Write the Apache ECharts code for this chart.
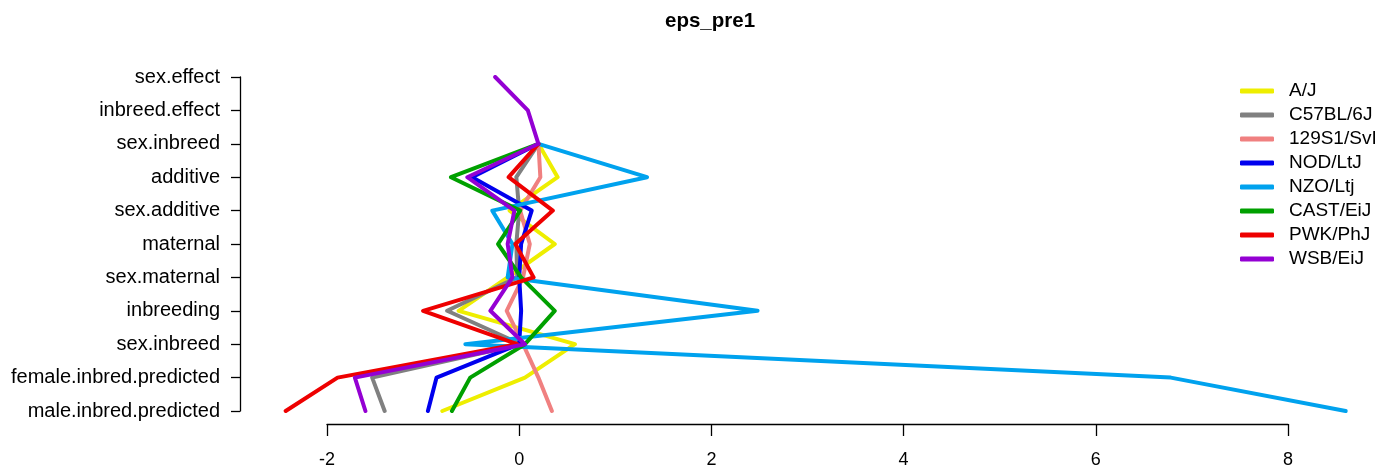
<!DOCTYPE html>
<html>
<head>
<meta charset="utf-8">
<title>eps_pre1</title>
<script src="https://cdn.jsdelivr.net/npm/echarts@6/dist/echarts.min.js"></script>
<style>
  html, body { margin: 0; padding: 0; background: #ffffff; }
  #chart { width: 1393px; height: 474px; }
</style>
</head>
<body>
<div id="chart"></div>
<script>
// Effect rows, listed top to bottom
const rowLabels = [
  'sex.effect', 'inbreed.effect', 'sex.inbreed', 'additive', 'sex.additive',
  'maternal', 'sex.maternal', 'inbreeding', 'sex.inbreed',
  'female.inbred.predicted', 'male.inbred.predicted'
];

// Tick values on the x axis
const xTicks = [-2, 0, 2, 4, 6, 8];

// Strain names (legend order)
const strains = ['A/J', 'C57BL/6J', '129S1/SvI', 'NOD/LtJ', 'NZO/Ltj', 'CAST/EiJ', 'PWK/PhJ', 'WSB/EiJ'];

// Per-strain estimates for each row (null = not estimated)
const ajValues    = [null, null, 0.20,  0.40, -0.10,  0.37, -0.12, -0.63,  0.58,  0.06, -0.80];
const b6Values    = [null, null, 0.20, -0.03,  0.00, -0.03, -0.02, -0.75,  0.02, -1.53, -1.40];
const s129Values  = [null, null, 0.20,  0.22,  0.01,  0.11,  0.04, -0.13,  0.04,  0.20,  0.34];
const nodValues   = [null, null, 0.20, -0.49,  0.13,  0.02,  0.00,  0.02,  0.00, -0.86, -0.95];
const nzoValues   = [null, null, 0.20,  1.33, -0.28, -0.07, -0.12,  2.48, -0.56,  6.78,  8.60];
const castValues  = [null, null, 0.20, -0.71,  0.01, -0.22,  0.02,  0.37,  0.06, -0.51, -0.70];
const pwkValues   = [null, null, 0.20, -0.11,  0.35, -0.04,  0.15, -1.00, -0.02, -1.89, -2.43];
const wsbValues   = [-0.25, 0.09, 0.20, -0.54, -0.05, -0.12, -0.07, -0.30,  0.06, -1.71, -1.60];

const strainValues = [ajValues, b6Values, s129Values, nodValues, nzoValues, castValues, pwkValues, wsbValues];
const strainColors = ['#eeee00', '#808080', '#f08080', '#0000ee', '#00a2ee', '#00a000', '#ee0000', '#9400d3'];

const FONT = 'Liberation Sans, Arial, Helvetica, sans-serif';

// Axis frame: ticks at -2..8 on a grid sized so one unit = (1288-327)/10 px.
// The data grid shares that scale but spans one extra unit on each side,
// so lines that run past -2 or 8 are drawn in full.
const unitPx = (1288 - 327) / 10;
const gridTop = 77, gridBottom = 63;

const series = strains.map((name, s) => {
  const pts = [];
  strainValues[s].forEach((v, i) => { if (v !== null) pts.push([v, i]); });
  return {
    name: name,
    type: 'line',
    xAxisIndex: 1,
    yAxisIndex: 1,
    data: pts,
    symbol: 'none',
    silent: true,
    lineStyle: { color: strainColors[s], width: 4, cap: 'round', join: 'round' },
    itemStyle: { color: strainColors[s] }
  };
});

const chart = echarts.init(document.getElementById('chart'), null, { renderer: 'canvas' });
chart.setOption({
  animation: false,
  backgroundColor: '#ffffff',
  textStyle: { fontFamily: FONT },
  title: {
    text: 'eps_pre1',
    left: 660,
    top: 6,
    textStyle: { fontSize: 20.5, fontWeight: 'bold', color: '#000', fontFamily: FONT }
  },
  legend: {
    orient: 'vertical',
    left: 1235,
    top: 76,
    itemWidth: 34,
    itemHeight: 5,
    itemGap: 4,
    icon: 'roundRect',
    textStyle: { fontSize: 19, lineHeight: 20, color: '#000', padding: [0, 0, 0, 10], fontFamily: FONT },
    data: strains
  },
  grid: [
    { left: 327, right: 1393 - 1288, top: gridTop, bottom: gridBottom, containLabel: false },
    { left: 327 - unitPx, right: 1393 - 1288 - unitPx, top: gridTop, bottom: gridBottom, containLabel: false }
  ],
  xAxis: [
    {
      type: 'value',
      gridIndex: 0,
      min: xTicks[0],
      max: xTicks[xTicks.length - 1],
      interval: 2,
      position: 'bottom',
      offset: 13,
      splitLine: { show: false },
      axisLine: { show: true, onZero: false, lineStyle: { color: '#000', width: 1.3 } },
      axisTick: { show: true, length: 12, lineStyle: { color: '#000', width: 1.3 } },
      axisLabel: { fontSize: 18, color: '#000', margin: 27, fontFamily: FONT }
    },
    {
      type: 'value',
      gridIndex: 1,
      min: xTicks[0] - 1,
      max: xTicks[xTicks.length - 1] + 1,
      show: false
    }
  ],
  yAxis: [
    {
      type: 'value',
      gridIndex: 0,
      inverse: true,
      min: 0,
      max: rowLabels.length - 1,
      interval: 1,
      position: 'left',
      offset: 87,
      splitLine: { show: false },
      axisLine: { show: true, onZero: false, lineStyle: { color: '#000', width: 1.3 } },
      axisTick: { show: true, length: 9, lineStyle: { color: '#000', width: 1.3 } },
      axisLabel: {
        fontSize: 20, color: '#000', margin: 20, fontFamily: FONT,
        formatter: v => rowLabels[Math.round(v)] || ''
      }
    },
    {
      type: 'value',
      gridIndex: 1,
      inverse: true,
      min: 0,
      max: rowLabels.length - 1,
      show: false
    }
  ],
  series: series
});
</script>
</body>
</html>
